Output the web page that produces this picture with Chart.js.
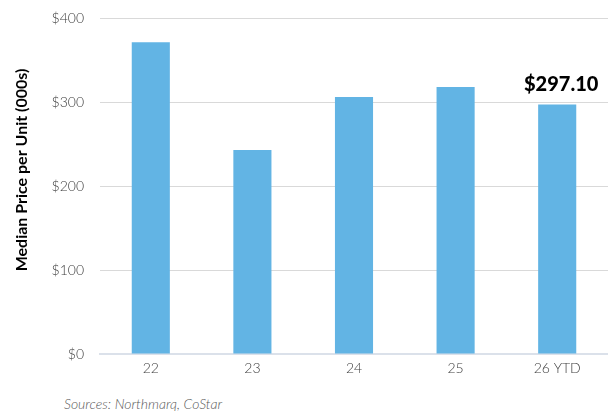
<!DOCTYPE html>
<html>
<head>
    <meta charset="UTF-8">
    <title>Median Price per Unit</title>
    <script src="https://cdn.jsdelivr.net/npm/chart.js"></script>
    <style>
        body { margin: 0; background: #fff; }
        #wrap { position: relative; width: 608px; height: 411px; }
        #source {
            position: absolute; left: 64px; top: 395px;
            font-family: Lato, sans-serif; font-style: italic; font-weight: 300;
            font-size: 14px; line-height: 17px; color: #595959;
        }
    </style>
</head>
<body>
<div id="wrap">
    <canvas id="priceChart" width="608" height="390"></canvas>
    <div id="source">Sources: Northmarq, CoStar</div>
</div>
<script>
    // Median price per unit, thousands of dollars
    var years = ['22', '23', '24', '25', '26 YTD'];
    var prices = [371, 243, 306, 318, 297.1];
    var yTicks = [0, 100, 200, 300, 400];
    var callout = '$297.10';
    var yTitle = 'Median Price per Unit (000s)';

    // callout above the last bar, plus the rotated y axis title
    var textPlugin = {
        id: 'extraText',
        afterDatasetsDraw: function(chart) {
            var meta = chart.getDatasetMeta(0);
            var bar = meta.data[meta.data.length - 1];
            var ctx = chart.ctx;
            ctx.save();
            ctx.font = '900 20px Lato, "Noto Sans", sans-serif';
            ctx.fillStyle = '#000';
            ctx.textAlign = 'center';
            ctx.textBaseline = 'bottom';
            ctx.fillText(callout, bar.x + 4, bar.y - 10);
            ctx.restore();

            ctx.save();
            ctx.translate(22, 170);
            ctx.rotate(-Math.PI / 2);
            ctx.font = 'bold 16px Lato, sans-serif';
            ctx.fillStyle = '#000';
            ctx.textAlign = 'center';
            ctx.textBaseline = 'middle';
            ctx.fillText(yTitle, 0, 0);
            ctx.restore();
        }
    };

    var ctx = document.getElementById('priceChart').getContext('2d');
    var priceChart = new Chart(ctx, {
        type: 'bar',
        data: {
            labels: years,
            datasets: [{
                data: prices,
                backgroundColor: '#62b4e4',
                barPercentage: 0.375,
                categoryPercentage: 1
            }]
        },
        options: {
            responsive: false,
            animation: false,
            layout: { padding: { top: 18, right: 0, left: 0, bottom: 0 } },
            plugins: {
                legend: { display: false },
                tooltip: { enabled: false }
            },
            scales: {
                x: {
                    grid: { display: false, drawTicks: false },
                    border: { color: '#dbe1ea', width: 2 },
                    ticks: {
                        color: '#404040',
                        font: { family: 'Lato', size: 14, weight: 300 },
                        padding: 6
                    },
                    afterFit: function(scale) { scale.height = 36; }
                },
                y: {
                    min: 0,
                    max: 400,
                    afterBuildTicks: function(scale) {
                        scale.ticks = yTicks.map(function(v) { return { value: v }; });
                    },
                    grid: { color: '#d9d9d9', lineWidth: 1, drawTicks: false },
                    border: { display: false },
                    ticks: {
                        color: '#404040',
                        font: { family: 'Lato', size: 14, weight: 300 },
                        padding: 16,
                        callback: function(v) { return '$' + v; }
                    },
                    afterFit: function(scale) {
                        scale.width = 100;
                        scale.paddingTop = 0;
                        scale.paddingBottom = 0;
                    }
                }
            }
        },
        plugins: [textPlugin]
    });
</script>
</body>
</html>
